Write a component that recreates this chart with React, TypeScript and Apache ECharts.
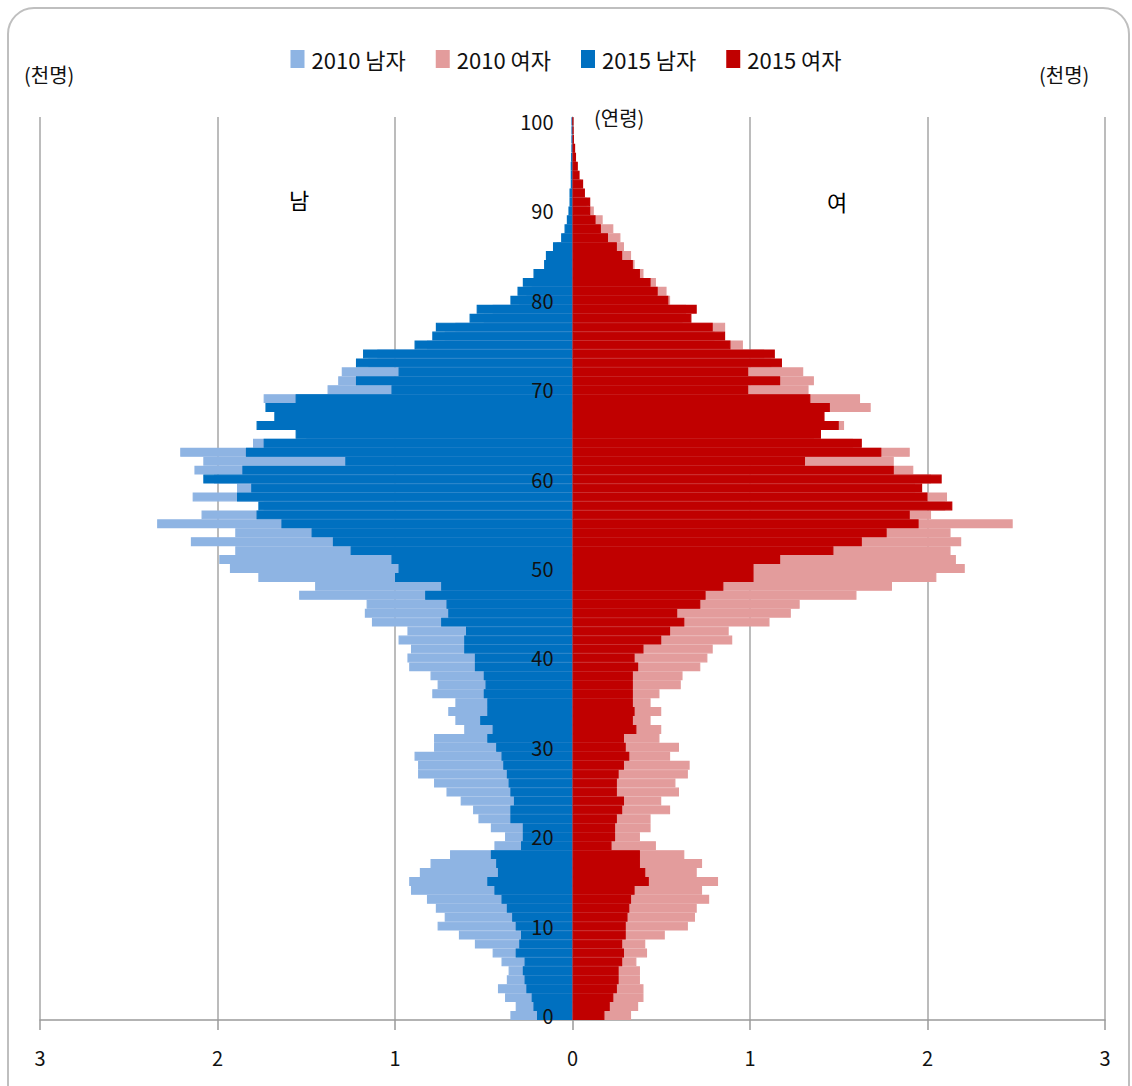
import React, { useEffect, useRef } from "react";
import * as echarts from "echarts";

const ages: string[] = Array.from({ length: 101 }, (_, i) => String(i));

const legendNames = ["2010 남자", "2010 여자", "2015 남자", "2015 여자"];

// thousands of persons, ages 0..100
const male2010 = [
  0.35, 0.32, 0.38, 0.42, 0.37, 0.36, 0.40, 0.45, 0.55, 0.64,
  0.76, 0.72, 0.77, 0.82, 0.91, 0.92, 0.86, 0.80, 0.69, 0.44,
  0.38, 0.46, 0.53, 0.56, 0.63, 0.71, 0.78, 0.87, 0.87, 0.89,
  0.78, 0.78, 0.61, 0.66, 0.70, 0.66, 0.79, 0.76, 0.80, 0.92,
  0.93, 0.91, 0.98, 0.93, 1.13, 1.17, 1.16, 1.54, 1.45, 1.77,
  1.93, 1.99, 1.90, 2.15, 1.90, 2.34, 2.09, 1.74, 2.14, 1.89,
  2.02, 2.13, 2.08, 2.21, 1.80, 1.50, 1.72, 1.62, 1.66, 1.74,
  1.38, 1.32, 1.30, 1.15, 1.10, 0.82, 0.72, 0.66, 0.50, 0.45,
  0.30, 0.26, 0.23, 0.18, 0.13, 0.12, 0.09, 0.05, 0.035, 0.025,
  0.018, 0.013, 0.012, 0.008, 0.007, 0.006, 0.005, 0.004, 0.003, 0.003,
  0.003,
];

const female2010 = [
  0.33, 0.37, 0.40, 0.40, 0.38, 0.38, 0.36, 0.42, 0.41, 0.52,
  0.65, 0.69, 0.70, 0.77, 0.73, 0.82, 0.70, 0.73, 0.63, 0.47,
  0.38, 0.44, 0.44, 0.55, 0.50, 0.60, 0.58, 0.65, 0.66, 0.55,
  0.60, 0.49, 0.50, 0.44, 0.50, 0.44, 0.49, 0.61, 0.62, 0.72,
  0.76, 0.79, 0.90, 0.88, 1.11, 1.23, 1.28, 1.60, 1.80, 2.05,
  2.21, 2.16, 2.13, 2.19, 2.13, 2.48, 2.02, 2.10, 2.11, 1.93,
  2.02, 1.92, 1.81, 1.90, 1.58, 1.36, 1.53, 1.38, 1.68, 1.62,
  1.33, 1.36, 1.30, 1.12, 1.08, 0.96, 0.80, 0.86, 0.62, 0.64,
  0.55, 0.53, 0.47, 0.40, 0.35, 0.33, 0.29, 0.27, 0.23, 0.17,
  0.12, 0.08, 0.06, 0.05, 0.035, 0.025, 0.018, 0.012, 0.007, 0.005,
  0.003,
];

const male2015 = [
  0.20, 0.22, 0.23, 0.26, 0.27, 0.28, 0.27, 0.32, 0.30, 0.29,
  0.32, 0.34, 0.37, 0.40, 0.44, 0.48, 0.42, 0.43, 0.46, 0.29,
  0.28, 0.28, 0.35, 0.35, 0.33, 0.35, 0.36, 0.37, 0.39, 0.40,
  0.43, 0.48, 0.45, 0.52, 0.48, 0.48, 0.50, 0.49, 0.50, 0.55,
  0.55, 0.61, 0.61, 0.60, 0.74, 0.70, 0.71, 0.83, 0.74, 1.00,
  0.98, 1.02, 1.25, 1.35, 1.47, 1.64, 1.78, 1.77, 1.89, 1.81,
  2.08, 1.86, 1.28, 1.84, 1.74, 1.56, 1.78, 1.68, 1.73, 1.56,
  1.02, 1.22, 0.98, 1.22, 1.18, 0.89, 0.79, 0.77, 0.58, 0.54,
  0.35, 0.31, 0.28, 0.22, 0.16, 0.15, 0.11, 0.064, 0.045, 0.032,
  0.023, 0.017, 0.017, 0.01, 0.01, 0.01, 0.008, 0.005, 0.005, 0.004,
  0.004,
];

const female2015 = [
  0.18, 0.21, 0.23, 0.25, 0.26, 0.26, 0.28, 0.29, 0.28, 0.30,
  0.30, 0.31, 0.32, 0.33, 0.35, 0.43, 0.41, 0.38, 0.38, 0.22,
  0.24, 0.24, 0.25, 0.28, 0.29, 0.25, 0.25, 0.26, 0.29, 0.32,
  0.30, 0.29, 0.36, 0.34, 0.35, 0.34, 0.34, 0.34, 0.34, 0.37,
  0.35, 0.40, 0.50, 0.55, 0.63, 0.59, 0.72, 0.75, 0.85, 1.02,
  1.02, 1.17, 1.47, 1.63, 1.77, 1.95, 1.90, 2.14, 2.00, 1.97,
  2.08, 1.81, 1.31, 1.74, 1.63, 1.40, 1.50, 1.42, 1.45, 1.34,
  0.99, 1.17, 0.99, 1.18, 1.14, 0.89, 0.86, 0.79, 0.67, 0.70,
  0.54, 0.48, 0.44, 0.38, 0.34, 0.28, 0.25, 0.20, 0.16, 0.13,
  0.10, 0.10, 0.07, 0.06, 0.04, 0.03, 0.02, 0.015, 0.008, 0.006,
  0.004,
];

const colors = ["#8EB4E3", "#E39C9C", "#0070C0", "#C00000"];

const FONT = "'Noto Sans CJK KR', 'Noto Sans', sans-serif";

const GRID_LEFT = 40;
const GRID_RIGHT = 27;
const PLOT_W = 1132 - GRID_LEFT - GRID_RIGHT;

export default function App() {
  const ref = useRef<HTMLDivElement>(null);

  useEffect(() => {
    document.body.style.margin = "0";
    if (!ref.current) return;
    const chart = echarts.init(ref.current, undefined, { renderer: "svg" });

    const mk = (name: string, data: number[], color: string, neg: boolean) => ({
      name,
      type: "bar",
      yAxisIndex: 0,
      data: data.map((v) => (neg ? -v : v)),
      barGap: "-100%",
      barCategoryGap: "0%",
      itemStyle: { color, borderColor: color, borderWidth: 1.2 },
      emphasis: { disabled: true },
    });

    chart.setOption({
      animation: false,
      textStyle: { fontFamily: FONT },
      legend: {
        data: legendNames,
        left: "center",
        top: 43,
        itemWidth: 12,
        itemHeight: 16,
        itemGap: 30,
        icon: "rect",
        textStyle: { fontSize: 22, color: "#111", fontFamily: FONT, padding: [0, 0, 0, 3] },
      },
      grid: {
        left: GRID_LEFT,
        right: GRID_RIGHT,
        top: 117,
        bottom: 66,
        containLabel: false,
        outerBoundsMode: "none",
      },
      xAxis: {
        type: "value",
        min: -3,
        max: 3,
        interval: 1,
        axisLine: { show: true, onZero: false, lineStyle: { color: "#9A9A9A", width: 1.5 } },
        axisTick: { show: true, length: 10, lineStyle: { color: "#9A9A9A", width: 1.5 } },
        splitLine: { show: true, lineStyle: { color: "#A6A6A6", width: 1.5 } },
        axisLabel: {
          formatter: (v: number) => String(Math.abs(v)),
          fontSize: 20,
          color: "#111",
          margin: 27,
          fontFamily: FONT,
        },
      },
      yAxis: [
        {
          type: "category",
          data: ages,
          position: "left",
          z: 10,
          offset: -PLOT_W / 2,
          axisLine: { show: false, onZero: false },
          axisTick: { show: false },
          splitLine: { show: false },
          axisLabel: {
            interval: 9,
            fontSize: 20,
            color: "#111",
            margin: 19,
            fontFamily: FONT,
          },
        },
        {
          type: "category",
          data: ages,
          position: "left",
          z: 0,
          offset: -PLOT_W / 2,
          axisLine: { show: true, onZero: false, lineStyle: { color: "#9A9A9A", width: 1.2 } },
          axisTick: { show: false },
          splitLine: { show: false },
          axisLabel: { show: false },
        },
      ],
      series: [
        mk(legendNames[0], male2010, colors[0], true),
        mk(legendNames[1], female2010, colors[1], false),
        mk(legendNames[2], male2015, colors[2], true),
        mk(legendNames[3], female2015, colors[3], false),
      ],
      graphic: [
        {
          type: "rect",
          shape: { x: 8, y: 8, width: 1121, height: 1110, r: 26 },
          style: { fill: "none", stroke: "#BFBFBF", lineWidth: 2 },
          silent: true,
        },
        {
          type: "text",
          left: 24,
          top: 64,
          style: { text: "(천명)", fontSize: 20, fill: "#111", fontFamily: FONT },
        },
        {
          type: "text",
          left: 1039,
          top: 64,
          style: { text: "(천명)", fontSize: 20, fill: "#111", fontFamily: FONT },
        },
        {
          type: "text",
          left: 594,
          top: 107,
          style: { text: "(연령)", fontSize: 20, fill: "#111", fontFamily: FONT },
        },
        {
          type: "text",
          left: 289,
          top: 188,
          style: { text: "남", fontSize: 22, fill: "#000", fontFamily: FONT },
        },
        {
          type: "text",
          left: 827,
          top: 190,
          style: { text: "여", fontSize: 22, fill: "#000", fontFamily: FONT },
        },
      ],
    });

    return () => chart.dispose();
  }, []);

  return <div ref={ref} style={{ width: 1132, height: 1086 }} />;
}
